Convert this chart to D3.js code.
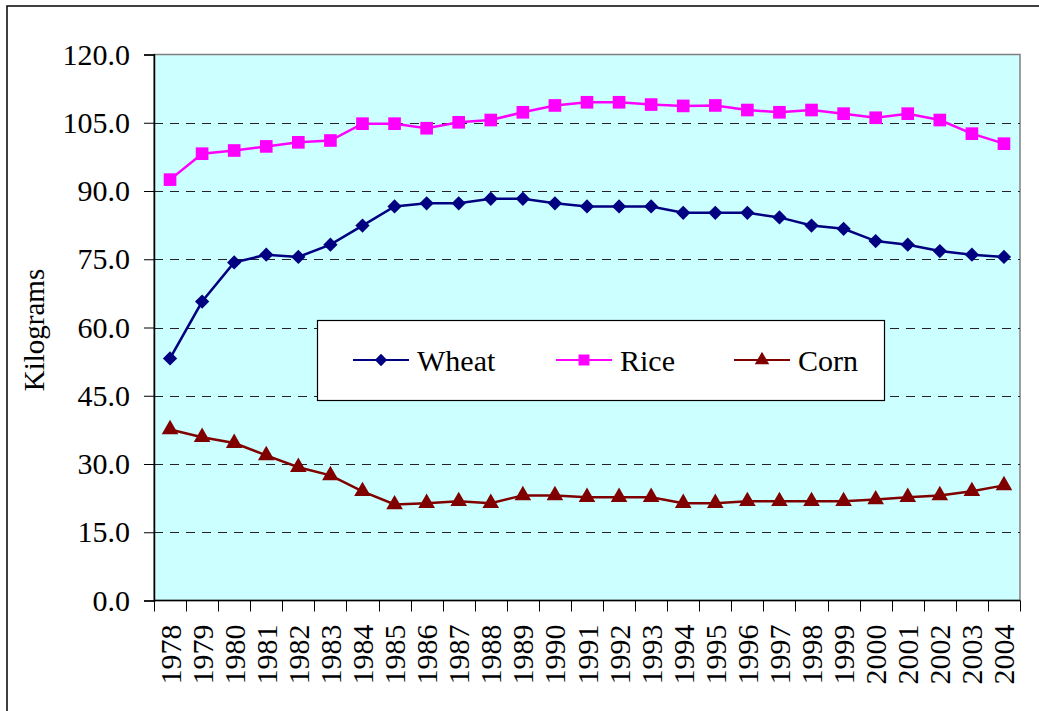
<!DOCTYPE html>
<html>
<head>
<meta charset="utf-8">
<script src="https://cdn.jsdelivr.net/npm/d3@7"></script>
<style>
  body { margin: 0; background: #fff; }
  text { font-family: "Liberation Serif", "Times New Roman", serif; fill: #000; }
</style>
</head>
<body>
<script>
// data (kg per person)
var years = [1978, 1979, 1980, 1981, 1982, 1983, 1984, 1985, 1986, 1987, 1988, 1989, 1990,
             1991, 1992, 1993, 1994, 1995, 1996, 1997, 1998, 1999, 2000, 2001, 2002, 2003, 2004];
var wheat = [53.2, 65.7, 74.3, 76.0, 75.5, 78.2, 82.4, 86.6, 87.3, 87.3, 88.3, 88.3, 87.3,
             86.6, 86.6, 86.6, 85.2, 85.2, 85.2, 84.2, 82.4, 81.7, 79.0, 78.2, 76.8, 76.0, 75.5];
var rice = [92.5, 98.2, 98.9, 99.8, 100.7, 101.1, 104.8, 104.8, 103.8, 105.1, 105.6, 107.3, 108.8,
            109.5, 109.5, 109.0, 108.7, 108.8, 107.8, 107.3, 107.8, 107.0, 106.1, 107.0, 105.6, 102.6, 100.4];
var corn = [37.6, 35.9, 34.6, 31.9, 29.3, 27.5, 24.0, 21.1, 21.4, 21.8, 21.4, 23.1, 23.1,
            22.7, 22.7, 22.7, 21.4, 21.4, 21.8, 21.8, 21.8, 21.8, 22.2, 22.7, 23.1, 24.0, 25.3];
var yTicks = [0, 15, 30, 45, 60, 75, 90, 105, 120];

var series = [
  { name: "Wheat", values: wheat, color: "#000080", symbol: d3.symbolDiamond2, size: 130 },
  { name: "Rice", values: rice, color: "#ff00ff", symbol: d3.symbolSquare, size: 160 },
  { name: "Corn", values: corn, color: "#800000", symbol: d3.symbolTriangle, size: 120 }
];

var svg_width = 1039;
var svg_height = 711;

// plot area
var plotLeft = 154, plotTop = 54.5, plotRight = 1020, plotBottom = 600.5;

var svg = d3.select("body").append("svg")
  .attr("width", svg_width)
  .attr("height", svg_height);

// outer chart border (runs off the page on the right and bottom)
svg.append("rect")
  .attr("x", 7).attr("y", 6)
  .attr("width", 1200).attr("height", 900)
  .attr("fill", "#fff")
  .attr("stroke", "#000")
  .attr("stroke-width", 1.5);

var x = d3.scaleBand().domain(years).range([plotLeft, plotRight]);
var y = d3.scaleLinear().domain([0, 120]).range([plotBottom, plotTop]);

// plot background
svg.append("rect")
  .attr("x", plotLeft).attr("y", plotTop)
  .attr("width", plotRight - plotLeft).attr("height", plotBottom - plotTop)
  .attr("fill", "#ccffff")
  .attr("stroke", "#808080")
  .attr("stroke-width", 1.5);

// dashed gridlines
svg.append("g").selectAll("line")
  .data(yTicks.filter(function(d) { return d > 0 && d < 120; }))
  .enter().append("line")
  .attr("x1", plotLeft).attr("x2", plotRight)
  .attr("y1", function(d) { return Math.round(y(d)) + 0.5; })
  .attr("y2", function(d) { return Math.round(y(d)) + 0.5; })
  .attr("stroke", "#222")
  .attr("stroke-dasharray", "9,7");

// y axis
var yAxis = svg.append("g")
  .attr("transform", "translate(" + plotLeft + ",0)")
  .call(d3.axisLeft(y).tickValues(yTicks).tickSize(10).tickPadding(14)
    .tickFormat(d3.format(".1f")));
yAxis.select(".domain").attr("stroke", "#000").attr("stroke-width", 1.5);
yAxis.selectAll(".tick line").attr("stroke", "#000");
yAxis.selectAll("text")
  .style("font-size", "30px")
  .style("font-family", "Liberation Serif");

// x axis: ticks sit between categories
var xAxis = svg.append("g")
  .attr("transform", "translate(0," + plotBottom + ")");
xAxis.append("line")
  .attr("x1", plotLeft).attr("x2", plotRight)
  .attr("stroke", "#000").attr("stroke-width", 1.5);
var edges = years.map(function(d) { return x(d); }).concat([plotRight]);
xAxis.selectAll(".xt")
  .data(edges)
  .enter().append("line")
  .attr("class", "xt")
  .attr("x1", function(d) { return Math.round(d) + 0.5; })
  .attr("x2", function(d) { return Math.round(d) + 0.5; })
  .attr("y1", 0).attr("y2", 11)
  .attr("stroke", "#000");
xAxis.selectAll(".xl")
  .data(years)
  .enter().append("text")
  .attr("class", "xl")
  .attr("transform", function(d) {
    return "translate(" + (x(d) + x.bandwidth() / 2) + ",24) rotate(-90)";
  })
  .attr("text-anchor", "end")
  .attr("dy", "0.35em")
  .style("font-size", "30px")
  .text(function(d) { return d; });

// y axis title
svg.append("text")
  .attr("transform", "translate(44,330) rotate(-90)")
  .attr("text-anchor", "middle")
  .style("font-size", "29px")
  .text("Kilograms");

// lines and markers
var line = d3.line()
  .x(function(d, i) { return x(years[i]) + x.bandwidth() / 2; })
  .y(function(d) { return y(d); });

series.forEach(function(s) {
  svg.append("path")
    .datum(s.values)
    .attr("d", line)
    .attr("fill", "none")
    .attr("stroke", s.color)
    .attr("stroke-width", 2.5);
  svg.append("g").selectAll("path")
    .data(s.values)
    .enter().append("path")
    .attr("transform", function(d, i) {
      return "translate(" + (x(years[i]) + x.bandwidth() / 2) + "," + y(d) + ")";
    })
    .attr("d", d3.symbol().type(s.symbol).size(s.size))
    .attr("fill", s.color);
});

// legend
var legend = svg.append("g");
legend.append("rect")
  .attr("x", 317.5).attr("y", 320.5)
  .attr("width", 567).attr("height", 80)
  .attr("fill", "#fff")
  .attr("stroke", "#000")
  .attr("stroke-width", 1.2);

var legendX = [353, 556, 734];
series.forEach(function(s, i) {
  var lx = legendX[i];
  legend.append("line")
    .attr("x1", lx).attr("x2", lx + 56)
    .attr("y1", 360).attr("y2", 360)
    .attr("stroke", s.color)
    .attr("stroke-width", 2.2);
  legend.append("path")
    .attr("transform", "translate(" + (lx + 28) + ",360)")
    .attr("d", d3.symbol().type(s.symbol).size(s.size * 0.75))
    .attr("fill", s.color);
  legend.append("text")
    .attr("x", lx + 64)
    .attr("y", 371)
    .style("font-size", "30px")
    .text(s.name);
});
</script>
</body>
</html>
